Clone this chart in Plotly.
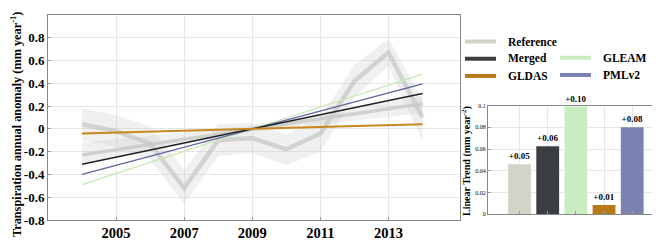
import plotly.graph_objects as go

# ---------------- data ----------------
years = [2004, 2005, 2006, 2007, 2008, 2009, 2010, 2011, 2012, 2013, 2014]
ref_series = [0.04, -0.02, -0.13, -0.52, -0.10, -0.08, -0.18, -0.04, 0.42, 0.67, 0.10]
ref_upper = [0.18, 0.12, 0.02, -0.36, 0.04, 0.05, -0.05, 0.10, 0.56, 0.79, 0.25]
ref_lower = [-0.10, -0.16, -0.27, -0.66, -0.24, -0.21, -0.32, -0.20, 0.28, 0.55, -0.11]

trend_years = [2004, 2009, 2014]
ref_trend = [-0.23, 0.0, 0.22]
ref_trend_upper = [-0.12, 0.03, 0.29]
ref_trend_lower = [-0.30, -0.03, 0.14]
merged_trend = [-0.31, 0.0, 0.31]
gleam_trend = [-0.49, 0.0, 0.48]
gldas_trend = [-0.04, 0.0, 0.04]
pml_trend = [-0.40, 0.0, 0.395]

products = ["Reference", "Merged", "GLEAM", "GLDAS", "PMLv2"]
trend_rates = [0.046, 0.0625, 0.099, 0.0085, 0.080]
trend_labels = ["+0.05", "+0.06", "+0.10", "+0.01", "+0.08"]

x_ticks = [2005, 2007, 2009, 2011, 2013]
y_ticks = [-0.8, -0.6, -0.4, -0.2, 0, 0.2, 0.4, 0.6, 0.8]
y_tick_text = ["-0.8", "-0.6", "-0.4", "-0.2", "0", "0.2", "0.4", "0.6", "0.8"]
bar_y_ticks = [0, 0.02, 0.04, 0.06, 0.08, 0.1]
bar_y_tick_text = ["0", "0.02", "0.04", "0.06", "0.08", "0.1"]

# ---------------- style ----------------
bar_colors = ["#d3d3c7", "#3b3e41", "#c9edc0", "#b87a18", "#7b81b0"]
FONT = "Liberation Serif"
W, H = 660, 243

fig = go.Figure()

# reference series band
fig.add_trace(go.Scatter(x=years + years[::-1], y=ref_upper + ref_lower[::-1],
                         mode="lines", fill="toself",
                         fillcolor="rgba(205,205,205,0.30)",
                         line=dict(width=0), hoverinfo="skip", showlegend=False))
# reference trend band
fig.add_trace(go.Scatter(x=trend_years + trend_years[::-1],
                         y=ref_trend_upper + ref_trend_lower[::-1],
                         mode="lines", fill="toself",
                         fillcolor="rgba(205,205,205,0.30)",
                         line=dict(width=0), hoverinfo="skip", showlegend=False))
# reference series line
fig.add_trace(go.Scatter(x=years, y=ref_series, mode="lines",
                         line=dict(color="rgba(200,200,196,0.75)", width=4.5),
                         showlegend=False))
# reference trend line
fig.add_trace(go.Scatter(x=trend_years, y=ref_trend, mode="lines",
                         line=dict(color="rgba(200,200,196,0.8)", width=3.5),
                         showlegend=False))
# product trend lines
fig.add_trace(go.Scatter(x=trend_years, y=gleam_trend, mode="lines",
                         line=dict(color="#c6e8b4", width=1.3), showlegend=False))
fig.add_trace(go.Scatter(x=trend_years, y=pml_trend, mode="lines",
                         line=dict(color="#5c62a0", width=1.3), showlegend=False))
fig.add_trace(go.Scatter(x=trend_years, y=merged_trend, mode="lines",
                         line=dict(color="#1e1f22", width=1.5), showlegend=False))
fig.add_trace(go.Scatter(x=trend_years, y=gldas_trend, mode="lines",
                         line=dict(color="#c8861c", width=2), showlegend=False))

# bars
fig.add_trace(go.Bar(x=list(range(len(products))), y=trend_rates,
                     marker=dict(color=bar_colors, line=dict(width=0)),
                     text=trend_labels, textposition="outside", cliponaxis=False,
                     textfont=dict(family=FONT, size=9, color="black", weight="bold"),
                     width=0.81, xaxis="x2", yaxis="y2", showlegend=False,
                     hovertext=products))


def px_x(p):
    return p / W


def px_y(p):
    return 1 - p / H


axis_common = dict(showline=True, linecolor="#888888", linewidth=1, mirror=True,
                   gridcolor="#e6e6e6", gridwidth=1, zeroline=False,
                   ticks="inside", tickcolor="#999999", ticklen=3)

fig.update_layout(
    width=W, height=H, margin=dict(l=0, r=0, t=0, b=0),
    plot_bgcolor="white", paper_bgcolor="white",
    font=dict(family=FONT, color="black"),
    showlegend=False,
    xaxis=dict(domain=[px_x(40), px_x(452)], range=[2003, 2015.1],
               tickvals=x_ticks, ticktext=[str(v) for v in x_ticks],
               tickfont=dict(size=14.5, weight="bold"), **axis_common),
    yaxis=dict(domain=[px_y(219), px_y(4)], range=[-0.8, 1.0],
               tickvals=y_ticks, ticktext=y_tick_text,
               tickfont=dict(size=13, weight="bold"), **axis_common),
    xaxis2=dict(domain=[px_x(480), px_x(658)], range=[-1.12, 5.2], anchor="y2",
                tickvals=list(range(len(products))), showticklabels=False,
                **axis_common),
    yaxis2=dict(domain=[px_y(213), px_y(99)], range=[0, 0.1], anchor="x2",
                tickvals=bar_y_ticks, ticktext=bar_y_tick_text,
                tickfont=dict(size=6), **axis_common),
    bargap=0.19,
)

# axis titles as rotated annotations
fig.add_annotation(xref="paper", yref="paper", x=px_x(7.5), y=px_y(119),
                   xanchor="center", yanchor="middle", textangle=-90, showarrow=False,
                   text="Transpiration annual anomaly (mm year<sup>-1</sup>)",
                   font=dict(family=FONT, size=12.3, weight="bold", color="black"))
fig.add_annotation(xref="paper", yref="paper", x=px_x(459), y=px_y(157),
                   xanchor="center", yanchor="middle", textangle=-90, showarrow=False,
                   text="Linear Trend (mm year<sup>-2</sup>)",
                   font=dict(family=FONT, size=10, weight="bold", color="black"))

# manual legend (line samples + labels)
legend_slots = {
    "Reference": (457, 32),
    "Merged": (457, 50),
    "GLDAS": (457, 68),
    "GLEAM": (552, 49),
    "PMLv2": (552, 67),
}
legend_colors = dict(zip(products, bar_colors))
for name, (lx, ly) in legend_slots.items():
    fig.add_shape(type="line", xref="paper", yref="paper",
                  x0=px_x(lx), x1=px_x(lx + 31), y0=px_y(ly), y1=px_y(ly),
                  line=dict(color=legend_colors[name], width=4))
    fig.add_annotation(xref="paper", yref="paper", x=px_x(lx + 41), y=px_y(ly),
                       xanchor="left", yanchor="middle", showarrow=False,
                       text=name, font=dict(family=FONT, size=11.5, weight="bold",
                                            color="black"))

fig.write_html("out.html")
